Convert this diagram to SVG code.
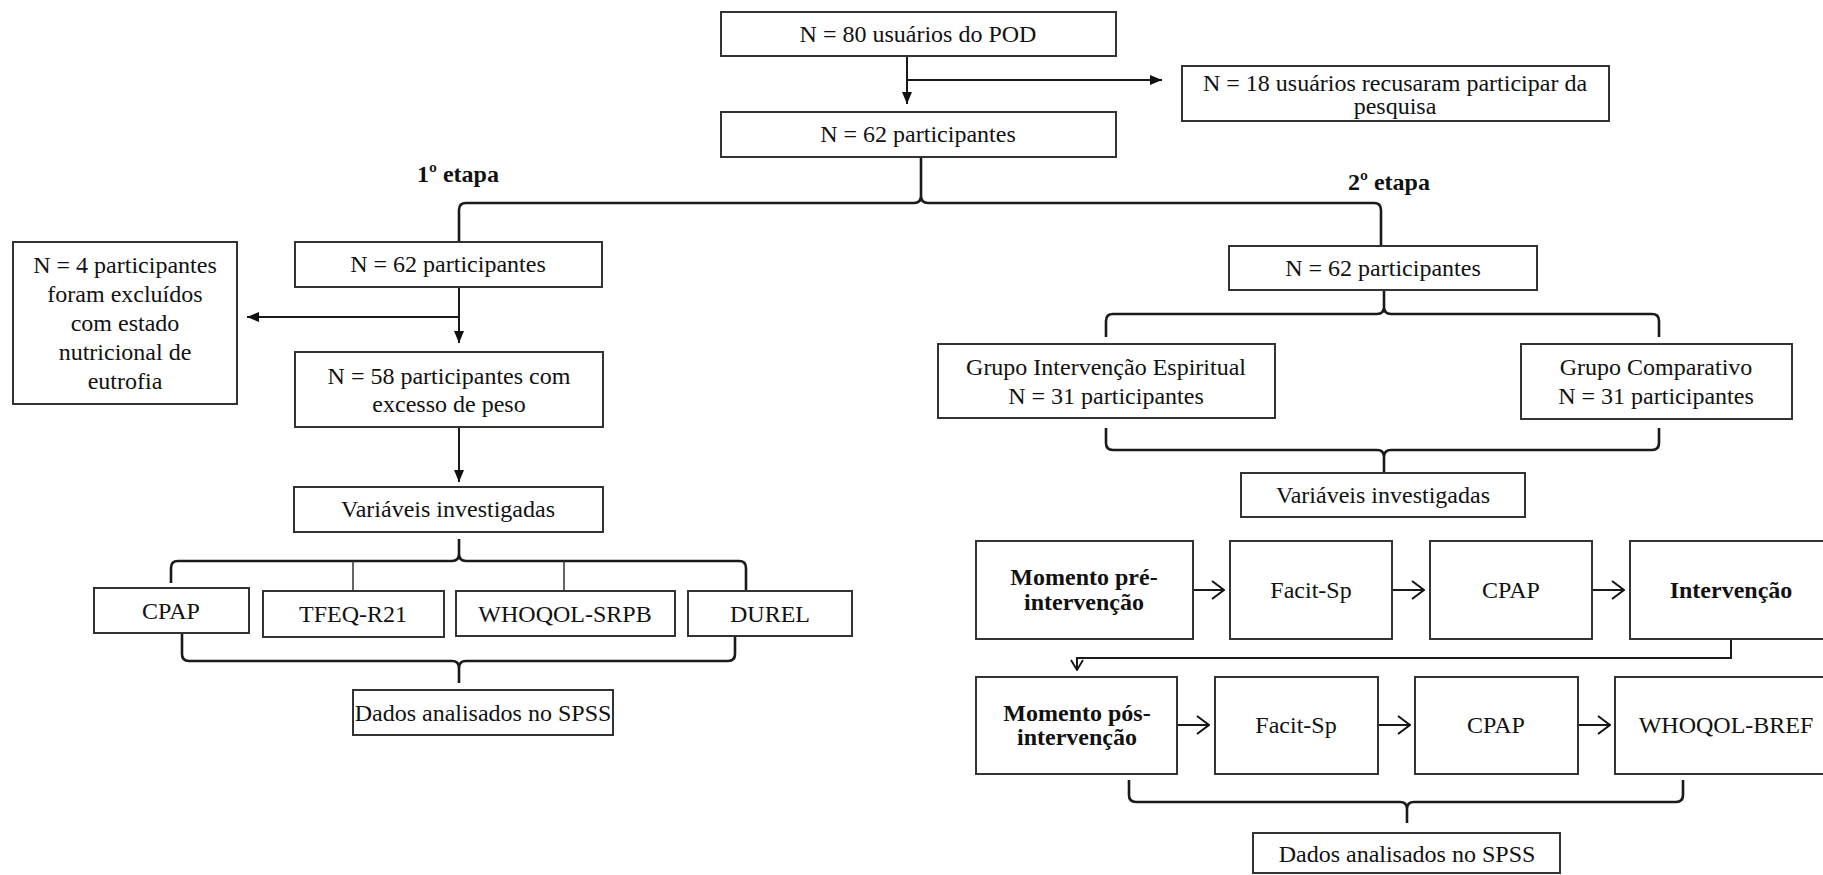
<svg xmlns="http://www.w3.org/2000/svg" width="1823" height="875" viewBox="0 0 1823 875">
<defs>
<style>
.b{fill:#fff;stroke:#333;stroke-width:2}
.t{font-family:"Liberation Serif","Times New Roman",serif;font-size:24px;fill:#111;text-anchor:middle}
.bd{font-weight:bold}
.ln{fill:none;stroke:#1a1a1a;stroke-width:2}
.br{fill:none;stroke:#1a1a1a;stroke-width:2.6}
.tk{fill:none;stroke:#333;stroke-width:1.5}
</style>
<marker id="tri" viewBox="0 0 12 10" refX="12" refY="5" markerWidth="12" markerHeight="10" markerUnits="userSpaceOnUse" orient="auto">
<path d="M0,0 L12,5 L0,10 z" fill="#111"/>
</marker>
<marker id="opn" viewBox="0 0 14 20" refX="13" refY="10" markerWidth="14" markerHeight="20" markerUnits="userSpaceOnUse" orient="auto">
<path d="M1,1 L13,10 L1,19" fill="none" stroke="#111" stroke-width="2"/>
</marker>
<marker id="opv" viewBox="0 0 12 14" refX="11" refY="7" markerWidth="12" markerHeight="14" markerUnits="userSpaceOnUse" orient="auto">
<path d="M1,1 L11,7 L1,13" fill="none" stroke="#111" stroke-width="1.8"/>
</marker>
</defs>
<rect width="1823" height="875" fill="#fff"/>

<g id="connectors">
<path class="ln" d="M907,56 L907,104" marker-end="url(#tri)"/>
<path class="ln" d="M907,80 L1162,80" marker-end="url(#tri)"/>
<path class="br" d="M459,242 L459,210 Q459,203 466,203 L914,203 Q921,203 921,196 L921,157 M921,196 Q921,203 928,203 L1374,203 Q1381,203 1381,210 L1381,245"/>
<path class="ln" d="M459,287 L459,343" marker-end="url(#tri)"/>
<path class="ln" d="M459,317 L247,317" marker-end="url(#tri)"/>
<path class="ln" d="M459,427 L459,482" marker-end="url(#tri)"/>
<path class="br" d="M171,583 L171,568 Q171,561 178,561 L452,561 Q459,561 459,554 L459,539 M459,554 Q459,561 466,561 L739,561 Q746,561 746,568 L746,590"/>
<path class="tk" d="M353,561 L353,591 M564,561 L564,591"/>
<path class="br" d="M182,634 L182,654 Q182,661 189,661 L452,661 Q459,661 459,668 L459,683 M459,668 Q459,661 466,661 L728,661 Q735,661 735,654 L735,637"/>
<path class="br" d="M1106,337 L1106,321 Q1106,314 1113,314 L1377,314 Q1384,314 1384,307 L1384,290 M1384,307 Q1384,314 1391,314 L1652,314 Q1659,314 1659,321 L1659,337"/>
<path class="br" d="M1106,428 L1106,443 Q1106,450 1113,450 L1377,450 Q1384,450 1384,457 L1384,472 M1384,457 Q1384,450 1391,450 L1652,450 Q1659,450 1659,443 L1659,428"/>
<path class="ln" d="M1193,590 L1224,590" marker-end="url(#opn)"/>
<path class="ln" d="M1392,590 L1424,590" marker-end="url(#opn)"/>
<path class="ln" d="M1592,590 L1624,590" marker-end="url(#opn)"/>
<path class="ln" d="M1731,639 L1731,658 L1077,658 L1077,670" marker-end="url(#opv)"/>
<path class="ln" d="M1177,725 L1209,725" marker-end="url(#opn)"/>
<path class="ln" d="M1378,725 L1410,725" marker-end="url(#opn)"/>
<path class="ln" d="M1578,725 L1610,725" marker-end="url(#opn)"/>
<path class="br" d="M1129,780 L1129,795 Q1129,802 1136,802 L1400,802 Q1407,802 1407,809 L1407,823 M1407,809 Q1407,802 1414,802 L1676,802 Q1683,802 1683,795 L1683,780"/>
</g>

<g id="n80"><rect class="b" x="721" y="12" width="395" height="44"/><text class="t" x="918" y="42">N = 80 usuários do POD</text></g>
<g id="n18"><rect class="b" x="1182" y="66" width="427" height="55"/><text class="t" x="1395" y="91">N = 18 usuários recusaram participar da</text><text class="t" x="1395" y="114">pesquisa</text></g>
<g id="n62top"><rect class="b" x="721" y="112" width="395" height="45"/><text class="t" x="918" y="142">N = 62 participantes</text></g>
<g id="etapa1"><text class="t bd" x="458" y="182">1º etapa</text></g>
<g id="etapa2"><text class="t bd" x="1389" y="190">2º etapa</text></g>

<g id="n62left"><rect class="b" x="295" y="242" width="307" height="45"/><text class="t" x="448" y="272">N = 62 participantes</text></g>
<g id="excluded"><rect class="b" x="13" y="242" width="224" height="162"/>
<text class="t" x="125" y="273">N = 4 participantes</text>
<text class="t" x="125" y="302">foram excluídos</text>
<text class="t" x="125" y="331">com estado</text>
<text class="t" x="125" y="360">nutricional de</text>
<text class="t" x="125" y="389">eutrofia</text></g>
<g id="n58"><rect class="b" x="295" y="352" width="308" height="75"/><text class="t" x="449" y="384">N = 58 participantes com</text><text class="t" x="449" y="412">excesso de peso</text></g>
<g id="varleft"><rect class="b" x="294" y="487" width="309" height="45"/><text class="t" x="448" y="517">Variáveis investigadas</text></g>
<g id="cpapL"><rect class="b" x="94" y="588" width="155" height="45"/><text class="t" x="171" y="619">CPAP</text></g>
<g id="tfeq"><rect class="b" x="263" y="591" width="181" height="46"/><text class="t" x="353" y="622">TFEQ-R21</text></g>
<g id="srpb"><rect class="b" x="456" y="591" width="219" height="45"/><text class="t" x="565" y="622">WHOQOL-SRPB</text></g>
<g id="durel"><rect class="b" x="688" y="591" width="164" height="45"/><text class="t" x="770" y="622">DUREL</text></g>
<g id="dadosL"><rect class="b" x="353" y="690" width="260" height="45"/><text class="t" x="483" y="721">Dados analisados no SPSS</text></g>

<g id="n62right"><rect class="b" x="1229" y="246" width="308" height="44"/><text class="t" x="1383" y="276">N = 62 participantes</text></g>
<g id="grupoIE"><rect class="b" x="938" y="344" width="337" height="74"/><text class="t" x="1106" y="375">Grupo Intervenção Espiritual</text><text class="t" x="1106" y="404">N = 31 participantes</text></g>
<g id="grupoC"><rect class="b" x="1521" y="344" width="271" height="75"/><text class="t" x="1656" y="375">Grupo Comparativo</text><text class="t" x="1656" y="404">N = 31 participantes</text></g>
<g id="varright"><rect class="b" x="1241" y="473" width="284" height="44"/><text class="t" x="1383" y="503">Variáveis investigadas</text></g>

<g id="prei"><rect class="b" x="976" y="541" width="217" height="98"/><text class="t bd" x="1084" y="585">Momento pré-</text><text class="t bd" x="1084" y="610">intervenção</text></g>
<g id="facit1"><rect class="b" x="1230" y="541" width="162" height="98"/><text class="t" x="1311" y="598">Facit-Sp</text></g>
<g id="cpap1"><rect class="b" x="1430" y="541" width="162" height="98"/><text class="t" x="1511" y="598">CPAP</text></g>
<g id="interv"><rect class="b" x="1630" y="541" width="202" height="98"/><text class="t bd" x="1731" y="598">Intervenção</text></g>

<g id="posi"><rect class="b" x="976" y="677" width="201" height="97"/><text class="t bd" x="1077" y="721">Momento pós-</text><text class="t bd" x="1077" y="745">intervenção</text></g>
<g id="facit2"><rect class="b" x="1215" y="677" width="163" height="97"/><text class="t" x="1296" y="733">Facit-Sp</text></g>
<g id="cpap2"><rect class="b" x="1415" y="677" width="163" height="97"/><text class="t" x="1496" y="733">CPAP</text></g>
<g id="bref"><rect class="b" x="1615" y="677" width="221" height="97"/><text class="t" x="1726" y="733">WHOQOL-BREF</text></g>
<g id="dadosR"><rect class="b" x="1253" y="833" width="307" height="40"/><text class="t" x="1407" y="862">Dados analisados no SPSS</text></g>
</svg>
